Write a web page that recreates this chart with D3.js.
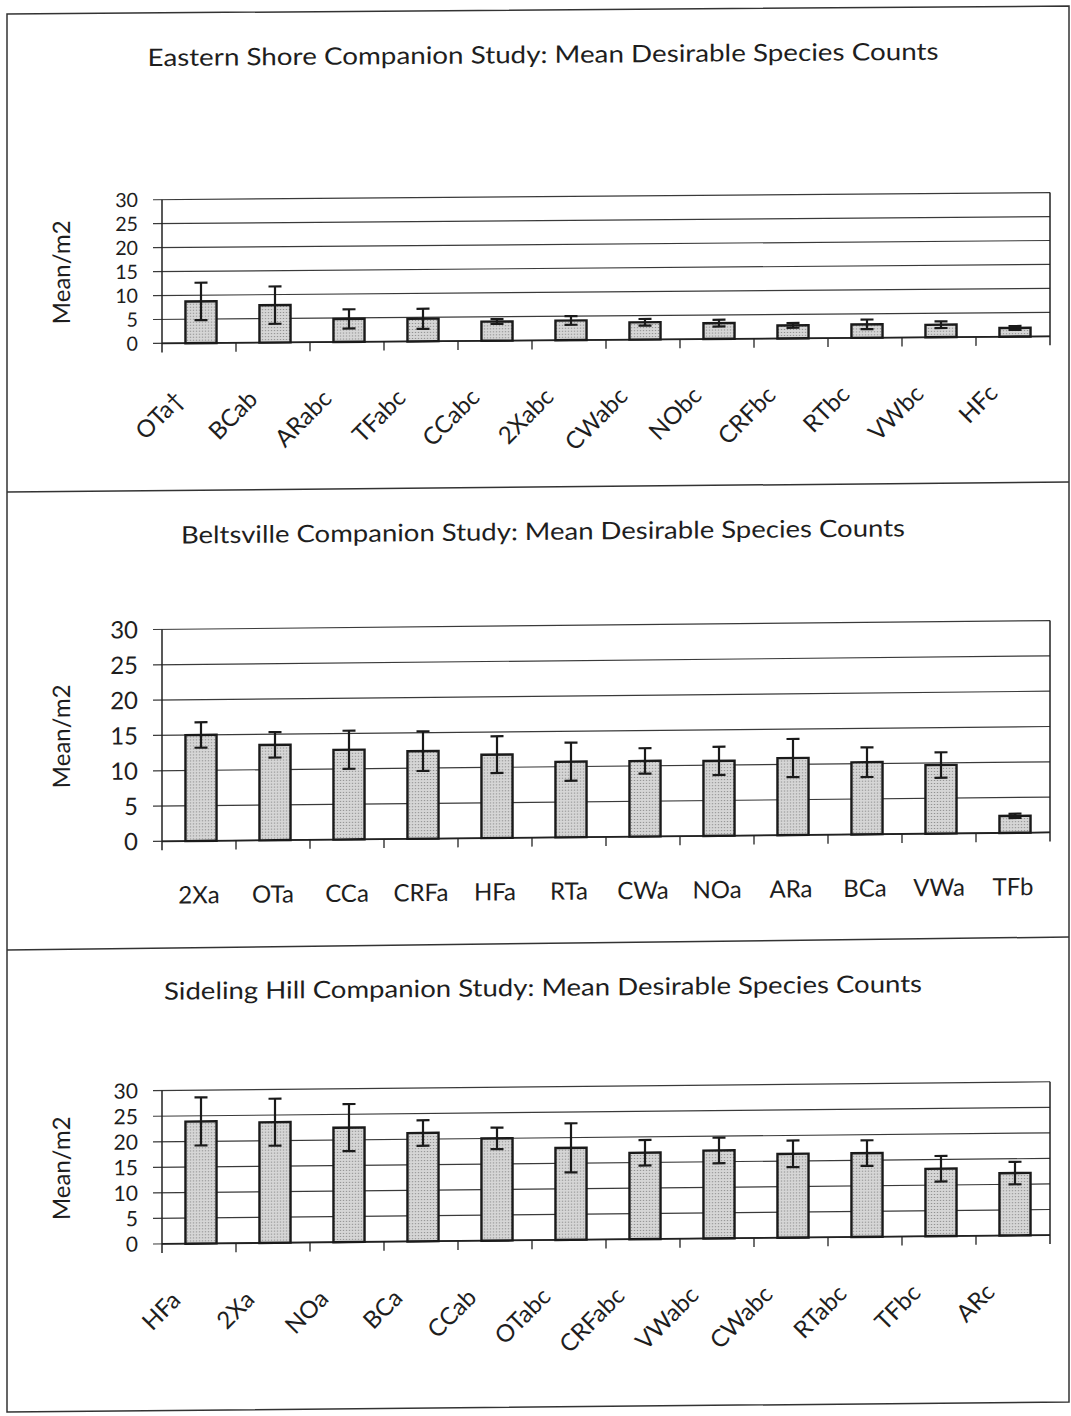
<!DOCTYPE html>
<html><head><meta charset="utf-8">
<script src="https://cdn.jsdelivr.net/npm/d3@7/dist/d3.min.js"></script>
<style>html,body{margin:0;padding:0;background:#fff;}svg{display:block;}</style>
</head><body>
<script>
// ---- data ----
const yTicks = [0, 5, 10, 15, 20, 25, 30];

const esTitle = "Eastern Shore Companion Study: Mean Desirable Species Counts";
const esCats  = ["OTa\u2020","BCab","ARabc","TFabc","CCabc","2Xabc","CWabc","NObc","CRFbc","RTbc","VWbc","HFc"];
const esMeans = [8.7, 7.8, 4.8, 4.7, 4.0, 4.1, 3.6, 3.3, 2.7, 2.8, 2.6, 1.8];
const esErr   = [3.9, 3.9, 2.0, 2.1, 0.5, 0.9, 0.7, 0.7, 0.5, 1.0, 0.7, 0.4];

const btTitle = "Beltsville Companion Study: Mean Desirable Species Counts";
const btCats  = ["2Xa","OTa","CCa","CRFa","HFa","RTa","CWa","NOa","ARa","BCa","VWa","TFb"];
const btMeans = [15.0, 13.5, 12.7, 12.4, 11.8, 10.7, 10.7, 10.6, 10.9, 10.2, 9.7, 2.4];
const btErr   = [1.8, 1.8, 2.7, 2.8, 2.6, 2.7, 1.8, 2.0, 2.7, 2.1, 1.8, 0.3];

const shTitle = "Sideling Hill Companion Study: Mean Desirable Species Counts";
const shCats  = ["HFa","2Xa","NOa","BCa","CCab","OTabc","CRFabc","VWabc","CWabc","RTabc","TFbc","ARc"];
const shMeans = [23.9, 23.6, 22.4, 21.2, 20.0, 18.0, 16.9, 17.2, 16.4, 16.4, 13.2, 12.2];
const shErr   = [4.7, 4.6, 4.6, 2.5, 2.1, 4.8, 2.5, 2.5, 2.6, 2.5, 2.5, 2.2];

const yLabel = "Mean/m2";

// ---- layout ----
const W = 1071, H = 1416;
const FONT = "Lato, 'Open Sans', sans-serif";
const INK = "#1e1e1e";

const svg = d3.select("body").append("svg").attr("width", W).attr("height", H);

const defs = svg.append("defs");
const pat = defs.append("pattern").attr("id","dots").attr("patternUnits","userSpaceOnUse")
  .attr("width",3).attr("height",3);
pat.append("rect").attr("width",3).attr("height",3).attr("fill","#d6d6d6");
pat.append("rect").attr("x",1).attr("y",1).attr("width",1).attr("height",1).attr("fill","#6e6e6e");

// page frame (scan is slightly skewed)
svg.append("path")
  .attr("d","M7,14 L1069,6 L1069,1402 L7,1412 Z")
  .attr("fill","none").attr("stroke","#333").attr("stroke-width",1.5);
svg.append("line").attr("x1",7).attr("y1",492).attr("x2",1069).attr("y2",482)
  .attr("stroke","#333").attr("stroke-width",1.5);
svg.append("line").attr("x1",7).attr("y1",950).attr("x2",1069).attr("y2",937)
  .attr("stroke","#333").attr("stroke-width",1.5);

const panels = [
  {title: esTitle, cats: esCats, means: esMeans, errs: esErr, k: 0.008,
   y0: 340.4, y30: 196.7, titleY: 63, titleLen: 791, rot: true, lblDx: -14, lblDy: 58},
  {title: btTitle, cats: btCats, means: btMeans, errs: btErr, k: 0.010,
   y0: 837.6, y30: 625.7, titleY: 540, titleLen: 724, rot: false, lblY: 900},
  {title: shTitle, cats: shCats, means: shMeans, errs: shErr, k: 0.010,
   y0: 1240.2, y30: 1086.9, titleY: 996, titleLen: 758, rot: true, lblDx: -17, lblDy: 58}
];

const X0 = 162, X1 = 1050;

panels.forEach(p => {
  const g = svg.append("g")
    .attr("transform", `matrix(1,${-p.k},0,1,0,${p.k*535})`);

  g.append("text").attr("x", 543).attr("y", p.titleY)
    .attr("text-anchor","middle").attr("font-family",FONT).attr("font-size",24)
    .attr("fill",INK).attr("textLength",p.titleLen).attr("lengthAdjust","spacingAndGlyphs")
    .text(p.title);

  const x = d3.scaleBand().domain(p.cats).range([X0, X1]).paddingInner(0).paddingOuter(0);
  const y = d3.scaleLinear().domain([0, 30]).range([p.y0, p.y30]);
  const step = (p.y0 - p.y30) / (yTicks.length - 1);
  const tickFont = Math.min(24, Math.floor(step / 1.21 * 10) / 10);

  // gridlines + left ticks
  g.append("g").selectAll("line").data(yTicks).join("line")
    .attr("x1", X0 - 9).attr("x2", X1)
    .attr("y1", d => y(d)).attr("y2", d => y(d))
    .attr("stroke", "#3a3a3a").attr("stroke-width", 1.2);

  // y tick labels
  g.append("g").selectAll("text").data(yTicks).join("text")
    .attr("x", 138).attr("y", d => y(d)).attr("dy","0.36em")
    .attr("text-anchor","end").attr("font-family",FONT).attr("font-size",tickFont)
    .attr("fill",INK).text(d => d);

  // axis frame
  g.append("line").attr("x1",X0).attr("x2",X0).attr("y1",y(30)).attr("y2",y(0)+9)
    .attr("stroke","#222").attr("stroke-width",1.5);
  g.append("line").attr("x1",X1).attr("x2",X1).attr("y1",y(30)).attr("y2",y(0)+9)
    .attr("stroke","#222").attr("stroke-width",1.5);
  g.append("line").attr("x1",X0).attr("x2",X1).attr("y1",y(0)).attr("y2",y(0))
    .attr("stroke","#222").attr("stroke-width",1.8);
  // category boundary ticks
  g.append("g").selectAll("line").data(p.cats.slice(1)).join("line")
    .attr("x1", d => x(d)).attr("x2", d => x(d))
    .attr("y1", y(0)).attr("y2", y(0) + 9)
    .attr("stroke","#222").attr("stroke-width",1.3);

  // bars
  const bw = x.bandwidth() * 0.42;
  const data = p.cats.map((c, i) => ({c, m: p.means[i], e: p.errs[i]}));
  g.append("g").selectAll("rect").data(data).join("rect")
    .attr("x", d => x(d.c) + x.bandwidth()/2 - bw/2 + 2)
    .attr("width", bw)
    .attr("y", d => y(d.m))
    .attr("height", d => y(0) - y(d.m))
    .attr("fill","url(#dots)").attr("stroke","#1a1a1a").attr("stroke-width",2.4);

  // error bars
  const eg = g.append("g").attr("stroke","#1a1a1a").attr("stroke-width",2.2);
  const cx = d => x(d.c) + x.bandwidth()/2 + 2;
  eg.selectAll("line.v").data(data).join("line").attr("class","v")
    .attr("x1",cx).attr("x2",cx)
    .attr("y1", d => y(d.m + d.e)).attr("y2", d => y(Math.max(0, d.m - d.e)));
  eg.selectAll("line.t").data(data).join("line").attr("class","t")
    .attr("x1", d => cx(d) - 6.5).attr("x2", d => cx(d) + 6.5)
    .attr("y1", d => y(d.m + d.e)).attr("y2", d => y(d.m + d.e));
  eg.selectAll("line.b").data(data).join("line").attr("class","b")
    .attr("x1", d => cx(d) - 6.5).attr("x2", d => cx(d) + 6.5)
    .attr("y1", d => y(Math.max(0, d.m - d.e))).attr("y2", d => y(Math.max(0, d.m - d.e)));

  // y-axis title
  const yc = (p.y0 + p.y30) / 2;
  g.append("text").attr("transform", `translate(70,${yc}) rotate(-90)`)
    .attr("text-anchor","middle").attr("font-family",FONT).attr("font-size",24)
    .attr("fill",INK).text(yLabel);

  // category labels
  if (p.rot) {
    g.append("g").selectAll("text").data(p.cats).join("text")
      .attr("transform", d => `translate(${x(d) + x.bandwidth()/2 + p.lblDx},${p.y0 + p.lblDy}) rotate(-45)`)
      .attr("text-anchor","end").attr("font-family",FONT).attr("font-size",24)
      .attr("fill",INK).text(d => d);
  } else {
    g.append("g").selectAll("text").data(p.cats).join("text")
      .attr("x", d => x(d) + x.bandwidth()/2).attr("y", p.lblY)
      .attr("text-anchor","middle").attr("font-family",FONT).attr("font-size",24)
      .attr("fill",INK).text(d => d);
  }
});
</script>
</body></html>
